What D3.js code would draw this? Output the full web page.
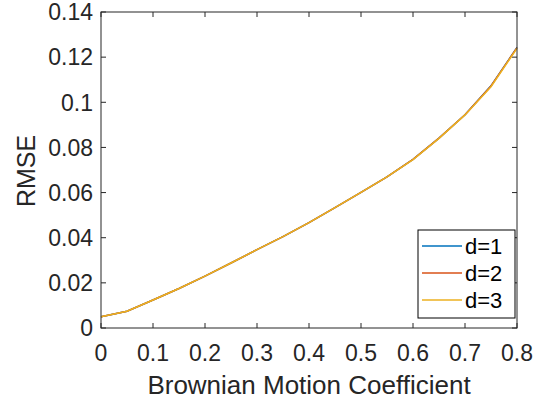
<!DOCTYPE html>
<html><head><meta charset="utf-8">
<script src="https://d3js.org/d3.v7.min.js"></script>
<style>body{margin:0;background:#fff}svg{display:block}text{font-family:"Liberation Sans",Arial,sans-serif;fill:#262626}</style>
</head><body><svg id="c" width="542" height="403"></svg>
<script>
const xValues = [0,0.05,0.1,0.15,0.2,0.25,0.3,0.35,0.4,0.45,0.5,0.55,0.6,0.65,0.7,0.75,0.8];
const d1 = [0.0050,0.0074,0.0124,0.0175,0.0230,0.0288,0.0347,0.0405,0.0467,0.0533,0.0601,0.0670,0.0747,0.0841,0.0945,0.1073,0.1243];
const d2 = [0.0050,0.0074,0.0124,0.0175,0.0230,0.0288,0.0347,0.0405,0.0467,0.0533,0.0601,0.0670,0.0747,0.0841,0.0945,0.1072,0.1242];
const d3v = [0.0050,0.0074,0.0124,0.0175,0.0230,0.0288,0.0347,0.0405,0.0467,0.0533,0.0601,0.0670,0.0746,0.0840,0.0944,0.1069,0.1239];
const seriesNames = ["d=1","d=2","d=3"];
const xTicks = [0,0.1,0.2,0.3,0.4,0.5,0.6,0.7,0.8];
const yTicks = [0,0.02,0.04,0.06,0.08,0.1,0.12,0.14];
const colors = ["#0072BD","#D95319","#EDB120"];

const svg = d3.select("#c");
const L=101,R=517,T=12,B=328;
const x = d3.scaleLinear().domain([0,0.8]).range([L,R]);
const y = d3.scaleLinear().domain([0,0.14]).range([B,T]);
const ax="#262626", fs=23;

const g = svg.append("g");
const tl=5;
xTicks.forEach(t=>{
  g.append("line").attr("x1",x(t)).attr("x2",x(t)).attr("y1",B).attr("y2",B-tl).attr("stroke",ax);
  g.append("line").attr("x1",x(t)).attr("x2",x(t)).attr("y1",T).attr("y2",T+tl).attr("stroke",ax);
  g.append("text").attr("x",x(t)).attr("y",361).attr("text-anchor","middle").attr("font-size",fs).text(String(t));
});
yTicks.forEach(t=>{
  g.append("line").attr("x1",L).attr("x2",L+tl).attr("y1",y(t)).attr("y2",y(t)).attr("stroke",ax);
  g.append("line").attr("x1",R).attr("x2",R-tl).attr("y1",y(t)).attr("y2",y(t)).attr("stroke",ax);
  g.append("text").attr("x",93).attr("y",y(t)).attr("dy","0.36em").attr("text-anchor","end").attr("font-size",fs).text(String(t));
});

const series=[d1,d2,d3v];
const line = d3.line().x((d,i)=>x(xValues[i])).y(d=>y(d));
series.forEach((s,k)=>{
  svg.append("path").datum(s).attr("d",line).attr("fill","none").attr("stroke",colors[k]).attr("stroke-width",1.5);
});

svg.append("rect").attr("x",L).attr("y",T).attr("width",R-L).attr("height",B-T).attr("fill","none").attr("stroke",ax).attr("stroke-width",1);

svg.append("text").attr("x",(L+R)/2+0).attr("y",394).attr("text-anchor","middle").attr("font-size",26).text("Brownian Motion Coefficient");
svg.append("text").attr("transform",`translate(35,${(T+B)/2+1}) rotate(-90)`).attr("text-anchor","middle").attr("font-size",25).text("RMSE");

const lg = svg.append("g");
lg.append("rect").attr("x",418).attr("y",230).attr("width",97).attr("height",88).attr("fill","#fff").attr("stroke","#000").attr("stroke-width",1);
seriesNames.forEach((n,k)=>{
  const yy=246+k*27;
  lg.append("line").attr("x1",422).attr("x2",462).attr("y1",yy).attr("y2",yy).attr("stroke",colors[k]).attr("stroke-width",1.5);
  lg.append("text").attr("x",465).attr("y",yy).attr("dy","0.36em").attr("font-size",22).style("fill","#000").text(n);
});
</script></body></html>
